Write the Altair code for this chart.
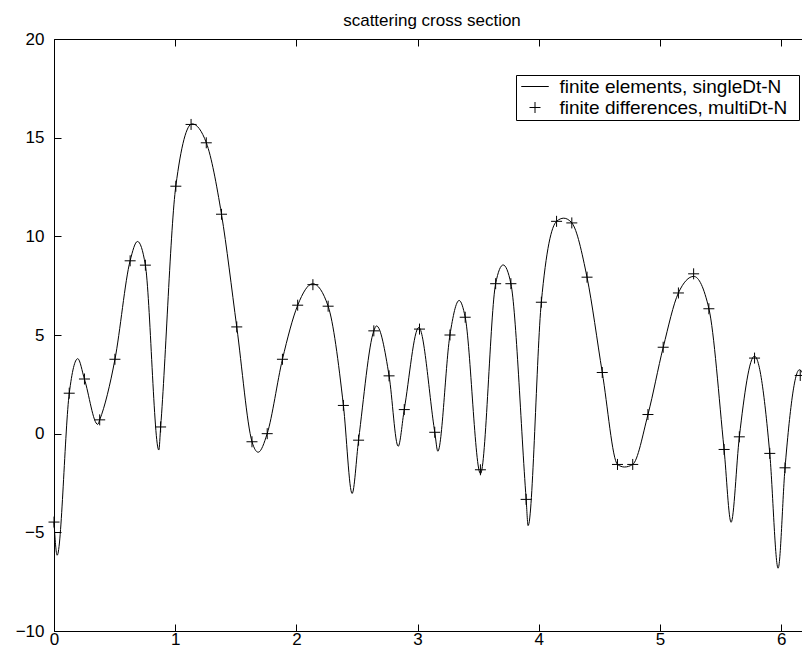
import math
import altair as alt
import pandas as pd

TITLE = "scattering cross section"
SERIES = ["finite elements, singleDt-N", "finite differences, multiDt-N"]
X_TICKS = [0, 1, 2, 3, 4, 5, 6]
Y_TICKS = [-10, -5, 0, 5, 10, 15, 20]

# continuous curve (finite elements)
curve_x = [0.000, 0.026, 0.126, 0.196, 0.251, 0.361, 0.377, 0.503, 0.628, 0.689,
           0.754, 0.865, 0.880, 1.005, 1.140, 1.257, 1.382, 1.508, 1.634, 1.685,
           1.759, 1.885, 2.011, 2.135, 2.262, 2.388, 2.460, 2.513, 2.639, 2.661,
           2.765, 2.840, 2.890, 3.010, 3.142, 3.167, 3.267, 3.343, 3.393, 3.519,
           3.644, 3.706, 3.770, 3.896, 3.912, 4.021, 4.147, 4.206, 4.273, 4.398,
           4.524, 4.650, 4.707, 4.775, 4.901, 5.027, 5.152, 5.279, 5.404, 5.529,
           5.587, 5.655, 5.780, 5.906, 5.975, 6.032, 6.151, 6.283]
curve_y = [-4.48, -6.16, 2.05, 3.80, 2.77, 0.47, 0.70, 3.77, 8.76, 9.74,
           8.54, -0.83, 0.34, 12.54, 15.70, 14.74, 11.12, 5.41, -0.41, -0.94,
           0.00, 3.77, 6.51, 7.60, 6.46, 1.43, -3.03, -0.33, 5.21, 5.46,
           2.93, -0.64, 1.22, 5.38, 0.07, -0.89, 5.00, 6.75, 5.90, -2.03,
           7.60, 8.55, 7.60, -3.33, -4.66, 6.66, 10.76, 10.92, 10.68, 7.93,
           3.10, -1.56, -1.69, -1.56, 0.97, 4.38, 7.13, 7.97, 6.33, -0.80,
           -4.49, -0.16, 3.93, -1.00, -6.82, -1.73, 3.24, 0.00]

# finite differences samples: 51 equally spaced angles on [0, 2*pi]
cross_k = list(range(51))
cross_y = [-4.48, 2.05, 2.77, 0.70, 3.77, 8.76, 8.54, 0.34, 12.54, 15.67,
           14.74, 11.12, 5.41, -0.41, 0.00, 3.77, 6.51, 7.55, 6.46, 1.43,
           -0.33, 5.21, 2.93, 1.22, 5.30, 0.07, 5.00, 5.90, -1.83, 7.60,
           7.60, -3.33, 6.66, 10.76, 10.68, 7.93, 3.10, -1.56, -1.56, 0.97,
           4.38, 7.13, 8.10, 6.33, -0.80, -0.16, 3.83, -1.00, -1.73, 2.95,
           0.00]
cross_x = [2 * math.pi * k / 50 for k in cross_k]

curve_df = pd.DataFrame({"x": curve_x, "y": curve_y})
cross_df = pd.DataFrame({"x": cross_x, "y": cross_y, "series": SERIES[1]})

FONT = "Liberation Sans"
LINE_SYM = "M-2.5,0H2.5"
CROSS_SYM = "M-1,0H1M0,-1V1"

XMAX_VISIBLE = 6.238   # the figure is cropped at the right edge
xscale = alt.Scale(domain=[0, XMAX_VISIBLE], nice=False, zero=False)
yscale = alt.Scale(domain=[-10, 20], nice=False, zero=False)

line = alt.Chart(curve_df).mark_line(
    color="black", strokeWidth=1, interpolate="monotone"
).encode(
    x=alt.X("x:Q", scale=xscale,
            axis=alt.Axis(orient="bottom", values=X_TICKS, format="d",
                          labelPadding=0, labelFontSize=17, title=None)),
    y=alt.Y("y:Q", scale=yscale,
            axis=alt.Axis(orient="left", values=Y_TICKS,
                          labelPadding=10, title=None)),
)

pts = alt.Chart(cross_df).mark_point(
    shape=CROSS_SYM, filled=False, color="black", opacity=1,
    strokeWidth=1, size=121
).encode(
    x=alt.X("x:Q", scale=xscale,
            axis=alt.Axis(orient="top", values=X_TICKS, labels=False, title=None)),
    y=alt.Y("y:Q", scale=yscale,
            axis=alt.Axis(orient="right", values=Y_TICKS, labels=False, title=None)),
    shape=alt.Shape(
        "series:N",
        scale=alt.Scale(domain=SERIES, range=[LINE_SYM, CROSS_SYM]),
        legend=alt.Legend(
            title=None, orient="none", legendX=462, legendY=36,
            strokeColor="black", fillColor="white", padding=2,
            rowPadding=1, symbolOffset=7.5, labelOffset=15,
            labelFont=FONT, labelFontSize=19, labelColor="black",
            labelLimit=500, symbolSize=121, symbolStrokeWidth=1,
            symbolStrokeColor="black", symbolFillColor="transparent",
            labelExpr="datum.label + '\u2002\u200b'",
        ),
    ),
)

chart = alt.layer(line, pts).resolve_axis(
    x="independent", y="independent"
).properties(
    width=756,
    height=592,
    title=alt.Title(TITLE, fontSize=17, font=FONT, fontWeight="normal",
                    color="black", anchor="middle", offset=12, dy=25,
                    baseline="alphabetic"),
    autosize=alt.AutoSizeParams(type="none"),
    padding={"left": 46, "top": 31, "right": -8, "bottom": 18},
).configure_view(
    stroke="black", strokeWidth=1
).configure_axis(
    labelFont=FONT, labelFontSize=17, labelColor="black",
    tickColor="black", tickSize=7, tickWidth=1, domain=False,
    grid=False, offset=-7, labelFlush=False, labelOverlap=False,
    minExtent=0,
)

chart.save("out.html", embed_options={"renderer": "svg", "actions": False})
